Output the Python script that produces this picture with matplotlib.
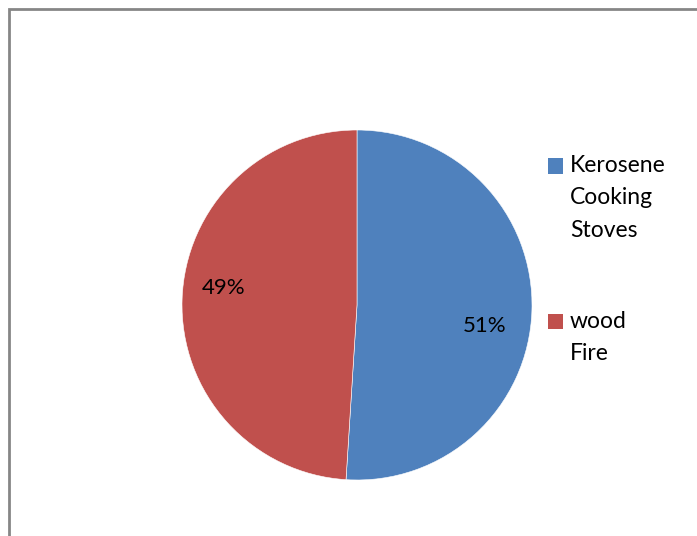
import matplotlib.pyplot as plt
from matplotlib.patches import Rectangle

# Data
labels = ['Kerosene\nCooking\nStoves', 'wood\nFire']
shares = [51, 49]
colors = ['#4F81BD', '#C0504D']

plt.rcParams['font.family'] = ['Lato', 'DejaVu Sans']

W, H = 697, 536
fig = plt.figure(figsize=(W / 100, H / 100), dpi=100)

# chart area border (only left and top visible)
fig.patches.append(Rectangle((9 / W, -0.5), 2.0, 1.5 - 9 / H, transform=fig.transFigure,
                             fill=False, edgecolor='#868686', linewidth=2.0))

cx, cy, r = 357, 305, 175
ax = fig.add_axes([(cx - r) / W, (H - cy - r) / H, 2 * r / W, 2 * r / H])
wedges, texts, autotexts = ax.pie(shares, colors=colors, startangle=90, counterclock=False,
                                  autopct='%1.0f%%', pctdistance=0.75,
                                  wedgeprops=dict(edgecolor='white', linewidth=0.4),
                                  textprops=dict(fontsize=16, color='black'))
ax.set_xlim(-1, 1)
ax.set_ylim(-1, 1)
ax.set_aspect('equal')

# data label positions (Excel "best fit")
label_pos = [(0.73, -0.12), (-0.76, 0.10)]
for t, p in zip(autotexts, label_pos):
    t.set_position(p)

# legend, drawn by hand so the marker sits on the first line
leg_top = [166, 321]
line_step = 32
for lab, col, y0 in zip(labels, colors, leg_top):
    fig.patches.append(Rectangle((548 / W, 1 - (y0 + 7.5) / H), 15 / W, 15 / H,
                                 transform=fig.transFigure, facecolor=col, edgecolor='none'))
    for i, line in enumerate(lab.split('\n')):
        fig.text(570 / W, 1 - (y0 + i * line_step) / H, line, fontsize=16.5,
                 ha='left', va='center')

fig.savefig('out.png', dpi=100)
